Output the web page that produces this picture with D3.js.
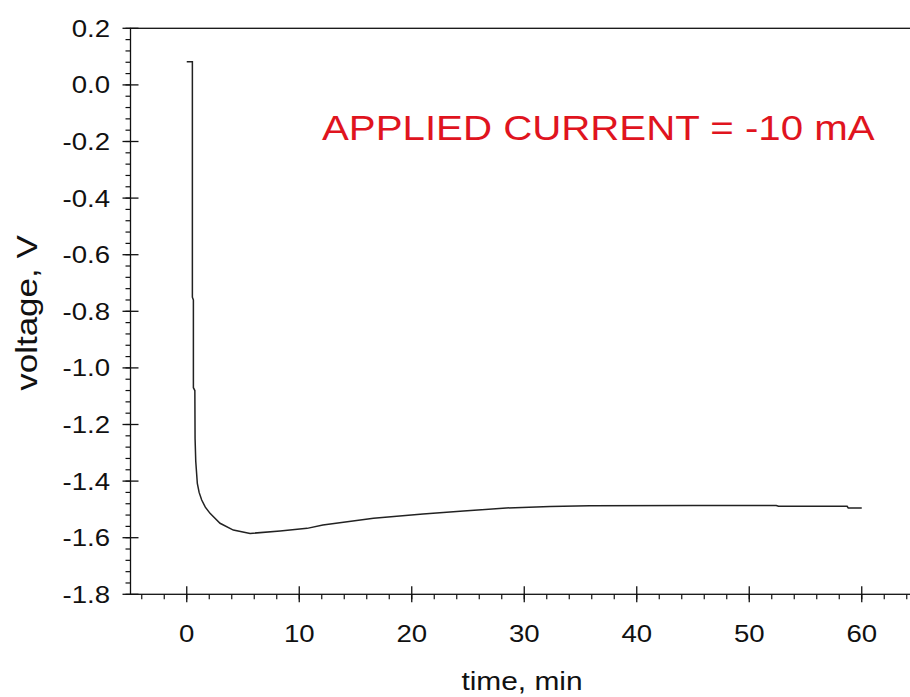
<!DOCTYPE html>
<html>
<head>
<meta charset="utf-8">
<script src="https://cdn.jsdelivr.net/npm/d3@7"></script>
<style>
  body { margin: 0; background: #fff; }
  svg { display: block; font-family: "Liberation Sans", Arial, sans-serif; }
</style>
</head>
<body>
<div id="chart"></div>
<script>
// data
var timeMin = [0, 0.5, 0.5, 0.59, 0.59, 0.72, 0.74, 0.8, 0.94, 1.1, 1.33, 1.65, 2.07, 2.96, 4.14, 5.63,
               8.3, 10.7, 12.1, 16.6, 21.0, 24.6, 28.4, 32.3, 35.8, 45, 52.4, 52.6, 58.7, 58.8, 60];
var voltage = [0.082, 0.082, -0.75, -0.76, -1.07, -1.08, -1.25, -1.33, -1.408, -1.44, -1.467, -1.492, -1.514, -1.549, -1.573, -1.585,
               -1.576, -1.567, -1.555, -1.531, -1.516, -1.506, -1.495, -1.490, -1.487, -1.486, -1.486, -1.489, -1.489, -1.495, -1.495];
var xTicks = [0, 10, 20, 30, 40, 50, 60];
var yTicks = [0.2, 0.0, -0.2, -0.4, -0.6, -0.8, -1.0, -1.2, -1.4, -1.6, -1.8];
var xTitle = "time, min";
var yTitle = "voltage, V";
var note = "APPLIED CURRENT = -10 mA";

var W = 910, H = 697;
// picture looks stretched sideways a bit
var sx = 1.15;

var svg = d3.select("#chart").append("svg")
    .attr("width", W).attr("height", H);

var x = d3.scaleLinear().domain([-5, 65]).range([130.5, 918]);
var y = d3.scaleLinear().domain([-1.8, 0.2]).range([594.3, 28.3]);

// frame (top line, right side falls off the picture)
svg.append("rect")
    .attr("x", x(-5)).attr("y", y(0.2))
    .attr("width", x(65) - x(-5)).attr("height", y(-1.8) - y(0.2))
    .attr("fill", "none").attr("stroke", "#111").attr("stroke-width", 1.3);

// minor ticks
var yMinor = d3.range(0, 51).map(function (i) { return -1.8 + i * 0.04; });
svg.append("g").selectAll("line").data(yMinor).enter().append("line")
    .attr("x1", x(-5) - 5).attr("x2", x(-5))
    .attr("y1", function (d) { return y(d); }).attr("y2", function (d) { return y(d); })
    .attr("stroke", "#111").attr("stroke-width", 1.2);

var xMinor = d3.range(-4, 65, 2);
svg.append("g").selectAll("line").data(xMinor).enter().append("line")
    .attr("x1", function (d) { return x(d); }).attr("x2", function (d) { return x(d); })
    .attr("y1", y(-1.8)).attr("y2", y(-1.8) + 5)
    .attr("stroke", "#111").attr("stroke-width", 1.2);

// major ticks cross the axis
svg.append("g").selectAll("line").data(yTicks).enter().append("line")
    .attr("x1", x(-5) - 8).attr("x2", x(-5) + 8)
    .attr("y1", function (d) { return y(d); }).attr("y2", function (d) { return y(d); })
    .attr("stroke", "#111").attr("stroke-width", 1.3);

svg.append("g").selectAll("line").data(xTicks).enter().append("line")
    .attr("x1", function (d) { return x(d); }).attr("x2", function (d) { return x(d); })
    .attr("y1", y(-1.8) - 8).attr("y2", y(-1.8) + 8)
    .attr("stroke", "#111").attr("stroke-width", 1.3);

// tick labels
svg.append("g").selectAll("text").data(yTicks).enter().append("text")
    .attr("transform", function (d) { return "translate(110," + (y(d) + 8.5) + ") scale(" + sx + ",1)"; })
    .attr("text-anchor", "end")
    .style("font-size", "24px")
    .attr("fill", "#111")
    .text(function (d) { return d3.format(".1f")(d).replace("−", "-"); });

svg.append("g").selectAll("text").data(xTicks).enter().append("text")
    .attr("transform", function (d) { return "translate(" + x(d) + ",641.5) scale(" + sx + ",1)"; })
    .attr("text-anchor", "middle")
    .style("font-size", "24px")
    .attr("fill", "#111")
    .text(function (d) { return d; });

// axis titles
svg.append("text")
    .attr("transform", "translate(522,690) scale(" + sx + ",1)")
    .attr("text-anchor", "middle")
    .style("font-size", "26px")
    .attr("fill", "#111")
    .text(xTitle);

svg.append("text")
    .attr("transform", "translate(37,313) scale(0.85,1) rotate(-90)")
    .attr("text-anchor", "middle")
    .style("font-size", "35px")
    .attr("fill", "#111")
    .text(yTitle);

// the curve
var line = d3.line()
    .x(function (d) { return x(d[0]); })
    .y(function (d) { return y(d[1]); });

svg.append("path")
    .datum(timeMin.map(function (t, i) { return [t, voltage[i]]; }))
    .attr("d", line)
    .attr("fill", "none")
    .attr("stroke", "#222")
    .attr("stroke-width", 1.5);

// red note
svg.append("text")
    .attr("transform", "translate(322,140) scale(" + sx + ",1)")
    .style("font-size", "35px")
    .attr("fill", "#e0141e")
    .text(note);
</script>
</body>
</html>
